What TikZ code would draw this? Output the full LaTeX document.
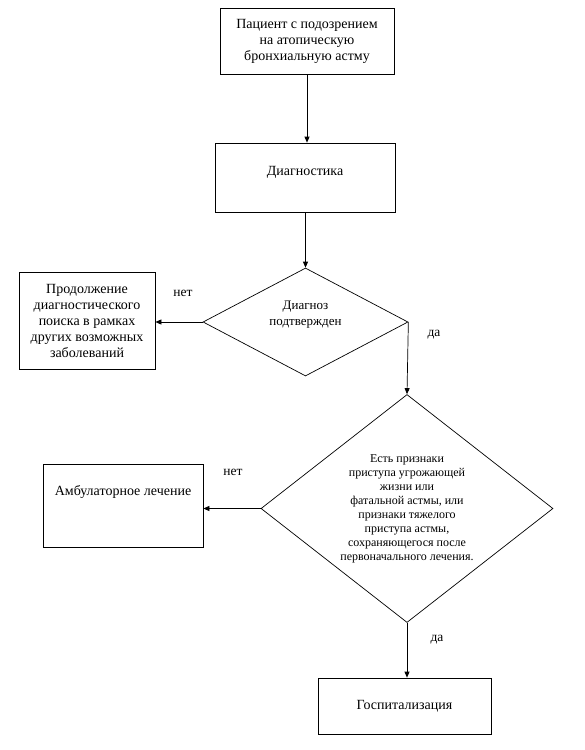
\documentclass[tikz,border=0pt]{standalone}
\usepackage{fontspec}
\setmainfont{Liberation Serif}
\usetikzlibrary{shapes.geometric,arrows.meta}
\begin{document}
\begin{tikzpicture}[x=1pt,y=-1pt,
  every node/.style={font=\fontsize{14}{16}\selectfont},
  box/.style={draw,line width=0.7pt,rectangle,align=center,inner sep=0pt},
  dec/.style={draw,line width=0.7pt,diamond,align=center,inner sep=0pt},
  conn/.style={line width=0.7pt,-{Triangle[length=6pt,width=5pt]}},
  lbl/.style={font=\fontsize{13.5}{16}\selectfont}]
\useasboundingbox (0,0) rectangle (585,750);
\node[box,minimum width=174pt,minimum height=66pt] (b1) at (307,41)
  {Пациент с подозрением\\на атопическую\\бронхиальную астму};
\node[box,minimum width=180pt,minimum height=69pt,text depth=14pt] (b2) at (305,177.5) {Диагностика};
\node[dec,aspect=1.9,minimum width=205pt,minimum height=108pt,font=\fontsize{13}{16}\selectfont,text depth=18pt] (d1) at (305.5,322)
  {Диагноз\\подтвержден};
\node[box,minimum width=136pt,minimum height=97pt] (b3) at (87,320.5)
  {Продолжение\\диагностического\\поиска в рамках\\других возможных\\заболеваний};
\node[dec,aspect=1.28,minimum width=292pt,minimum height=228pt,font=\fontsize{12}{14}\selectfont] (d2) at (407,508.5)
  {Есть признаки\\приступа угрожающей\\жизни или\\фатальной астмы, или\\признаки тяжелого\\приступа астмы,\\сохраняющегося после\\первоначального лечения.};
\node[box,minimum width=160pt,minimum height=83pt,text depth=30pt] (b4) at (123,505.5) {Амбулаторное лечение};
\node[box,minimum width=173pt,minimum height=56pt] (b5) at (404.5,706) {Госпитализация};
\draw[conn] (b1.south) -- (b1.south |- b2.north);
\draw[conn] (b2.south -| d1.north) -- (d1.north);
\draw[conn] (d1.west) -- (b3.east |- d1.west);
\draw[conn] (d1.east) -- (d2.north);
\draw[conn] (d2.west) -- (b4.east |- d2.west);
\draw[conn] (d2.south) -- (d2.south |- b5.north);
\node[lbl] (n1) at (183,293) {нет};
\node[lbl] (y1) at (434,335) {да};
\node[lbl] (n2) at (233,472) {нет};
\node[lbl] (y2) at (437,640) {да};
\end{tikzpicture}
\end{document}
